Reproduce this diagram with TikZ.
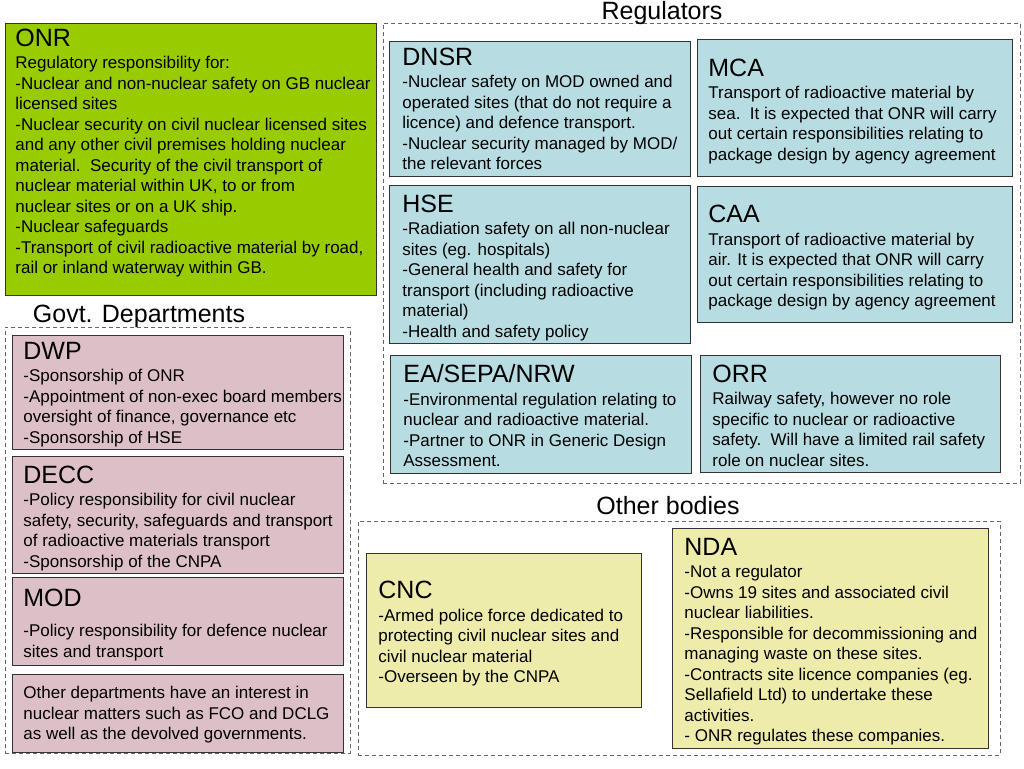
\documentclass[tikz,border=0pt]{standalone}
\usepackage{fontspec}
\setmainfont{Liberation Sans}

\definecolor{onrgreen}{RGB}{153,204,0}
\definecolor{regblue}{RGB}{183,221,226}
\definecolor{deptpink}{RGB}{221,191,199}
\definecolor{bodyyellow}{RGB}{238,236,170}

\newcommand{\bodyfont}{\fontsize{17}{20.5}\selectfont}
\newcommand{\hd}[2][27pt]{{\fontsize{25}{25}\selectfont\rule{0pt}{#1}#2}\\[2pt]}
% fixed-width block of lines, broken only where \\ says
\newcommand{\boxtext}[2]{\makebox[#1][l]{\begin{tabular}{@{}l@{}}#2\end{tabular}}}

\tikzset{
  orgbox/.style={draw=black!80, line width=0.8pt, anchor=north west,
    inner xsep=12pt, inner ysep=0pt, font=\bodyfont},
  regbox/.style={orgbox, fill=regblue},
  deptbox/.style={orgbox, fill=deptpink},
  otherbox/.style={orgbox, fill=bodyyellow},
  groupbox/.style={draw=black!60, dash pattern=on 4pt off 3pt, line width=0.8pt,
    anchor=north west, inner sep=0pt},
  grouplabel/.style={font=\fontsize{25}{25}\selectfont, inner sep=0pt}
}

\begin{document}
\begin{tikzpicture}[x=1pt, y=-1pt]
    \useasboundingbox (0,0) rectangle (1024,768);

    % Group frames
    \node[groupbox, minimum width=637pt, minimum height=460pt] (regulators) at (383,23) {};
    \node[groupbox, minimum width=345pt, minimum height=426pt] (govt) at (5,327) {};
    \node[groupbox, minimum width=642pt, minimum height=234pt] (others) at (358,521) {};

    % Group labels
    \node[grouplabel] (reglabel) at (662,13) {Regulators};
    \node[grouplabel] (govtlabel) at (139,316) {Govt. Departments};
    \node[grouplabel] (otherlabel) at (668,506) {Other bodies};

    % ONR
    \node[orgbox, fill=onrgreen, inner xsep=10pt, minimum height=272pt] (onr) at (5,23)
      {\boxtext{351pt}{\hd[0pt]{ONR}Regulatory responsibility for:\\
       -Nuclear and non-nuclear safety on GB nuclear\\ licensed sites\\
       -Nuclear security on civil nuclear licensed sites\\ and any other civil premises holding nuclear\\
       material.\ \ Security of the civil transport of\\ nuclear material within UK, to or from\\
       nuclear sites or on a UK ship.\\ -Nuclear safeguards\\
       -Transport of civil radioactive material by road,\\
       rail or inland waterway within GB.\rule[-16pt]{0pt}{16pt}}};

    % Regulators
    \node[regbox, inner xsep=13pt, minimum height=134pt] (dnsr) at (389,41)
      {\boxtext{275pt}{\hd[24pt]{DNSR}-Nuclear safety on MOD owned and\\ operated sites (that do not require a\\
       licence) and defence transport.\\ -Nuclear security managed by MOD/\\ the relevant forces}};
    \node[regbox, inner xsep=11pt, minimum height=137pt] (mca) at (697,39)
      {\boxtext{293pt}{\hd{MCA}Transport of radioactive material by\\ sea.\ \ It is expected that ONR will carry\\
       out certain responsibilities relating to\\ package design by agency agreement}};
    \node[regbox, inner xsep=13pt, minimum height=158pt] (hse) at (389,185)
      {\boxtext{275pt}{\hd{HSE}-Radiation safety on all non-nuclear\\ sites (eg. hospitals)\\
       -General health and safety for\\ transport (including radioactive\\ material)\\
       -Health and safety policy}};
    \node[regbox, inner xsep=11pt, minimum height=136pt] (caa) at (697,186)
      {\boxtext{293pt}{\hd{CAA}Transport of radioactive material by\\ air. It is expected that ONR will carry\\
       out certain responsibilities relating to\\ package design by agency agreement}};
    \node[regbox, inner xsep=13pt, minimum height=118pt] (ea) at (390,355)
      {\boxtext{275pt}{\hd{EA/SEPA/NRW}-Environmental regulation relating to\\ nuclear and radioactive material.\\
       -Partner to ONR in Generic Design\\ Assessment.}};
    \node[regbox, minimum height=113pt] (orr) at (700,355)
      {\boxtext{276pt}{\hd{ORR}Railway safety, however no role\\ specific to nuclear or radioactive\\
       safety.\ \ Will have a limited rail safety\\ role on nuclear sites.}};

    % Govt. Departments
    \node[deptbox, inner xsep=11pt, minimum height=114pt] (dwp) at (12,335)
      {\boxtext{309pt}{\hd[24pt]{DWP}-Sponsorship of ONR\\ -Appointment of non-exec board members\\
       oversight of finance, governance etc\\ -Sponsorship of HSE}};
    \node[deptbox, inner xsep=11pt, minimum height=113pt] (decc) at (12,456)
      {\boxtext{309pt}{\hd{DECC}-Policy responsibility for civil nuclear\\ safety, security, safeguards and transport\\
       of radioactive materials transport\\ -Sponsorship of the CNPA}};
    \node[deptbox, inner xsep=11pt, minimum height=88pt] (mod) at (12,577)
      {\boxtext{309pt}{\hd{MOD}\rule{0pt}{22pt}-Policy responsibility for defence nuclear\\ sites and transport}};
    \node[deptbox, inner xsep=11pt, minimum height=78pt] (otherdept) at (12,674)
      {\boxtext{309pt}{\rule{0pt}{18pt}Other departments have an interest in\\ nuclear matters such as FCO and DCLG\\
       as well as the devolved governments.}};

    % Other bodies
    \node[otherbox, minimum height=154pt] (cnc) at (366,553)
      {\boxtext{251pt}{\hd{CNC}-Armed police force dedicated to\\ protecting civil nuclear sites and\\
       civil nuclear material\\ -Overseen by the CNPA}};
    \node[otherbox, minimum height=218pt] (nda) at (672,528)
      {\boxtext{292pt}{\hd{NDA}-Not a regulator\\ -Owns 19 sites and associated civil\\ nuclear liabilities.\\
       -Responsible for decommissioning and\\ managing waste on these sites.\\
       -Contracts site licence companies (eg.\\ Sellafield Ltd) to undertake these\\
       activities.\\ - ONR regulates these companies.}};
\end{tikzpicture}
\end{document}
